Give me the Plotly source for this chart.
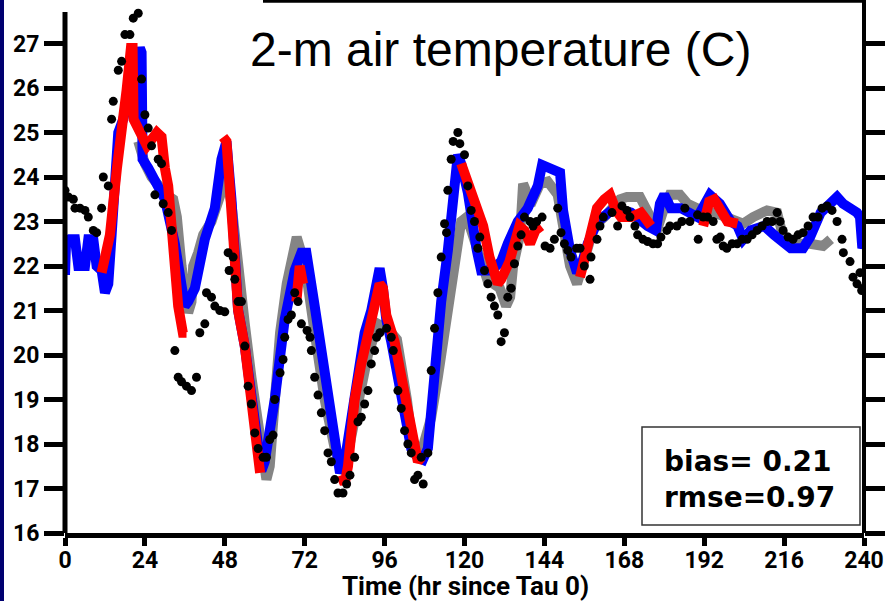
import plotly.graph_objects as go

# ---------------- data (hour since Tau 0, temperature C) ----------------
x_ticks = [0, 24, 48, 72, 96, 120, 144, 168, 192, 216, 240]
y_ticks = [16, 17, 18, 19, 20, 21, 22, 23, 24, 25, 26, 27]

blue = [(0, 21.8), (0.3, 22.5), (1.5, 22.6), (3, 22.6), (4, 22.0), (6, 22.0), (7, 22.6), (8.5, 22.6),
        (9.5, 22.0), (11, 21.9), (12, 21.4), (13, 21.6), (14, 22.7), (15, 24.2), (16, 25.0), (17.5, 25.3),
        (19, 25.8), (21, 26.3), (22.5, 26.9), (23, 26.8), (23.3, 24.4), (25, 24.2), (27, 23.9), (30, 23.5),
        (33, 22.5), (35, 21.3), (36, 21.1), (37, 21.2), (39, 21.5), (42, 22.6), (45, 23.3), (47, 24.4),
        (48.5, 24.8), (50, 23.5), (52, 21.0), (54, 20.2), (56, 19.0), (58, 17.6), (59, 17.4), (60, 17.6),
        (63, 19.0), (66, 20.8), (68, 21.5), (69, 21.9), (71, 22.3), (72.5, 22.3), (75, 21.1), (77, 20.1),
        (79, 19.1), (81, 18.1), (82.6, 17.35), (84, 17.6), (86, 18.6), (88, 19.5), (90, 20.5), (92, 21.0),
        (94.5, 21.95), (95.5, 21.5), (96.5, 20.8), (98, 20.3), (100, 19.5), (102, 18.5), (104, 17.9),
        (106, 17.7), (107.5, 17.65), (109, 17.9), (110, 18.8), (111, 19.7), (113, 21.2), (115, 22.35),
        (116.6, 23.85), (118, 24.5), (119, 24.3), (121, 23.65), (123.7, 22.35), (125, 21.9), (128, 21.9),
        (131, 22.1), (133, 22.5), (136, 23.0), (139, 23.3), (142, 23.8), (143.3, 24.27), (146, 24.2),
        (148.7, 24.1), (149.6, 23.25), (151.7, 22.35), (153.8, 21.85), (155, 22.0), (157, 22.5), (160, 23.0),
        (165, 23.3), (170, 23.2), (175, 22.9), (177.5, 22.8), (178.7, 23.4), (180, 23.6), (182, 23.3),
        (185, 23.3), (190, 23.1), (193.7, 23.6), (196.7, 23.4), (198, 23.25), (200, 23.0), (202, 22.9),
        (203.7, 22.6), (206, 22.8), (210, 22.9), (213, 22.7), (214.8, 22.6), (218, 22.4), (221.7, 22.4),
        (223.8, 22.65), (227, 23.2), (229.8, 23.4), (231.9, 23.55), (233.7, 23.4), (236, 23.3),
        (237.9, 23.2), (238.8, 23.1), (239.5, 22.4), (240, 22.5)]

gray = [(22, 24.8), (24, 24.3), (26, 24.0), (28, 23.8), (30.5, 23.6), (32.5, 23.5), (33.6, 23.1), (35, 22.0),
        (36, 21.25), (37, 20.95), (38, 21.2), (38.5, 22.0), (40, 22.3), (41.5, 22.7), (44, 23.0), (46, 23.4),
        (47.5, 23.8), (48.5, 24.0), (50, 23.4), (52, 21.8), (54, 20.7), (56, 19.5), (58, 18.3), (59.5, 17.5),
        (60.5, 17.2), (61.5, 17.5), (62.6, 18.5), (64.6, 20.5), (66.6, 21.6), (68.2, 22.35), (69.6, 22.65),
        (71, 22.3), (72.5, 21.8), (75, 20.5), (78, 19.0), (81, 17.9), (83, 17.5), (85, 17.8), (88, 19.0),
        (91, 20.0), (94, 20.7), (97.5, 20.55), (99.7, 20.35), (101, 19.8), (102.7, 19.0), (104, 18.2),
        (105.7, 17.7), (107, 17.8), (108.5, 18.2), (110, 18.6), (112, 19.5), (114, 20.6), (115.6, 21.45),
        (117.7, 22.6), (119, 23.0), (120.7, 23.1), (122, 22.8), (124.6, 22.1), (126.8, 21.7), (130.6, 21.5),
        (132.5, 21.1), (133.7, 21.3), (134.6, 22.0), (136.7, 22.7), (137.6, 23.85), (139, 23.6),
        (140.6, 23.5), (142.7, 23.85), (145, 23.9), (148, 23.6), (149.6, 22.9), (151.7, 22.0), (153.8, 21.6),
        (156, 22.2), (159, 22.9), (162, 23.1), (165, 23.4), (166.7, 23.5), (168.8, 23.55), (172.7, 23.55),
        (174.8, 23.25), (177.8, 22.8), (179.5, 23.2), (181.7, 23.6), (184.7, 23.6), (187, 23.4),
        (189.8, 23.3), (192, 23.2), (195, 23.2), (198, 23.1), (201, 23.0), (203.7, 22.95), (206.7, 23.1),
        (210.9, 23.25), (213.9, 23.2), (215.4, 22.75), (217, 22.6), (220, 22.5), (223.8, 22.5),
        (227.7, 22.45), (230, 22.6)]

red_segments = [
    [(11, 21.85), (13.5, 22.7), (15.6, 24.2), (17.5, 25.7), (18.5, 25.95), (19.8, 26.9), (20.3, 26.9),
     (20.6, 25.3), (22.5, 25.0), (24.6, 24.7), (27.6, 25.0), (29, 24.9), (30, 24.2), (31, 23.8), (32, 22.9),
     (33, 21.75), (34, 21.1), (35.4, 20.5), (36.5, 20.5)],
    [(47.5, 24.9), (48.5, 24.8), (50.5, 22.7), (52, 21.0), (54, 20.2), (55.6, 19.2), (57, 18.1), (58.6, 17.35)],
    [(69.5, 21.2), (70.5, 22.0), (71.5, 21.6)],
    [(83, 17.3), (84, 17.1), (85, 17.5), (87, 19.0), (89, 19.8), (91, 20.5), (93, 21.1), (94.5, 21.6),
     (95.5, 21.5), (96.5, 20.9), (99, 20.3), (101, 19.5), (103, 18.8), (105, 18.0), (106, 17.6), (107, 17.7)],
    [(119, 24.3), (120.5, 24.0), (122.7, 23.5), (125.6, 22.9), (127.5, 22.2), (129, 21.8), (130, 21.6),
     (131, 21.7), (133.5, 22.1), (136.5, 22.9), (138, 22.8), (139.7, 22.5), (141.3, 22.8), (143, 22.9)],
    [(154.7, 21.75), (157.7, 22.7), (159.8, 23.3), (162, 23.5), (163.7, 23.6), (165.5, 23.25), (167, 23.1),
     (170, 23.1), (173, 23.2), (175, 23.0), (176, 22.9)],
    [(191.7, 22.9), (193.5, 23.45), (195, 23.5), (197, 23.2), (199, 23.0), (202, 22.95)],
]

obs = [(0, 23.7), (1, 23.55), (2.5, 23.5), (3, 23.3), (4.5, 23.3), (6, 23.25), (7, 23.1), (8.5, 22.8),
       (9.5, 22.75), (11, 23.3), (11.5, 24.0), (13, 23.8), (14, 25.3), (14.5, 25.7), (16, 26.4), (17, 26.6),
       (18, 27.2), (19.5, 27.2), (20.5, 27.57), (22, 27.68), (23, 26.2), (24, 25.4), (25, 25.1), (26, 24.7),
       (27, 23.6), (28, 24.4), (29, 24.3), (29.5, 23.4), (31, 23.2), (32, 22.8), (33, 20.1), (34, 19.5),
       (35, 19.4), (36.5, 19.3), (38, 19.2), (39.5, 19.5), (40.5, 20.5), (42, 20.7), (42.5, 21.4), (44, 21.3),
       (45, 21.1), (46.5, 21.0), (48, 20.97), (49, 22.3), (49.3, 21.9), (50.5, 22.2), (51, 21.7), (52, 21.2),
       (53, 21.2), (54, 20.2), (55, 19.3), (56, 18.9), (57, 18.25), (58, 17.9), (59.5, 17.7), (60.5, 17.7),
       (61.5, 18.1), (62.5, 18.2), (63, 19.0), (64.6, 19.6), (65.5, 19.9), (66, 20.4), (67, 20.8), (68, 20.9),
       (69, 21.4), (70, 21.2), (71, 20.7), (72.7, 20.55), (73.6, 20.4), (74, 20.1), (75, 19.5), (76, 19.1),
       (77, 18.7), (78, 18.3), (79, 17.8), (80, 17.6), (81, 17.2), (82, 16.9), (83.5, 16.9), (84.6, 17.1),
       (85.6, 17.3), (87, 17.7), (88, 18.5), (89, 18.6), (90, 18.9), (91, 19.2), (92, 19.8), (93, 20.1),
       (93.6, 20.4), (94.6, 20.5), (96.6, 20.6), (98, 20.4), (98.6, 20.1), (100, 19.2), (101, 18.8),
       (102, 18.3), (103, 18.0), (104, 17.8), (105, 17.2), (106, 17.3), (107, 17.7), (107.6, 17.1),
       (109, 17.8), (110, 19.65), (111, 20.6), (112, 21.4), (113, 22.2), (114, 22.95), (114.6, 22.75),
       (115, 23.7), (116, 24.4), (116.6, 24.8), (118, 25.0), (118.6, 24.75), (120, 24.5), (121, 23.8),
       (122, 23.25), (123, 23.0), (124, 22.4), (124.6, 22.65), (126, 21.9), (127, 21.6), (128, 21.3),
       (129, 21.1), (130, 20.9), (131, 20.3), (132, 20.5), (133, 21.3), (134, 21.5), (135, 22.05),
       (136, 22.45), (137, 22.7), (138, 23.1), (139.7, 23.0), (140.6, 22.9), (141.7, 23.0), (143.3, 23.1),
       (144.2, 22.45), (145.7, 22.4), (147, 22.6), (148, 23.3), (149, 22.75), (150, 22.5), (151, 22.35),
       (152, 22.2), (153.7, 22.4), (154.7, 22.4), (156, 22.0), (157.7, 21.7), (158, 22.2), (159.8, 22.6),
       (160.7, 22.9), (161.7, 23.1), (164.3, 23.2), (166, 22.9), (167.3, 23.35), (168.8, 23.25),
       (169.7, 23.1), (171.2, 22.9), (172, 22.7), (173.6, 22.6), (175, 22.55), (176.6, 22.5), (178, 22.5),
       (179, 22.65), (180.8, 22.8), (181.7, 22.9), (183.8, 22.9), (185.3, 23.0), (186.2, 23.3),
       (187.7, 23.0), (190, 23.15), (190.2, 22.6), (191.7, 23.1), (193, 23.1), (194.7, 23.0), (195.8, 22.6),
       (196.8, 22.65), (197.7, 22.45), (198.8, 22.4), (200.4, 22.5), (201.9, 22.5), (203.4, 22.6),
       (204.9, 22.6), (206.4, 22.7), (207.9, 22.8), (209.4, 22.9), (210.9, 23.0), (212.4, 23.0),
       (213.9, 23.2), (214.8, 23.0), (215.7, 22.8), (217.2, 22.65), (218.7, 22.6), (220.2, 22.7),
       (221.7, 22.75), (223.2, 22.9), (224.7, 23.1), (226.2, 23.1), (227.4, 23.3), (228.9, 23.35),
       (230.4, 23.25), (231.9, 23.0), (233.4, 22.6), (233.8, 22.3), (235.8, 22.1), (236.7, 21.75),
       (237.9, 21.6), (238.8, 21.85), (239.3, 21.45), (239.8, 21.5)]

title_text = "2-m air temperature (C)"
x_title = "Time (hr since Tau 0)"
stats_text = "bias= 0.21<br>rmse=0.97"


def unzip(pairs):
    return [p[0] for p in pairs], [p[1] for p in pairs]


red_x, red_y = [], []
for seg in red_segments:
    sx, sy = unzip(seg)
    red_x += sx + [None]
    red_y += sy + [None]

fig = go.Figure()
gx, gy = unzip(gray)
bx, by = unzip(blue)
ox, oy = unzip(obs)
fig.add_trace(go.Scatter(x=gx, y=gy, mode="lines", line=dict(color="#858585", width=10), showlegend=False))
fig.add_trace(go.Scatter(x=bx, y=by, mode="lines", line=dict(color="#0000ff", width=10), showlegend=False))
fig.add_trace(go.Scatter(x=red_x, y=red_y, mode="lines", line=dict(color="#ff0000", width=10),
                         connectgaps=False, showlegend=False))
fig.add_trace(go.Scatter(x=ox, y=oy, mode="markers", marker=dict(color="black", size=9),
                         showlegend=False))

W, H = 885, 601
L, R, T, B = 65, 21, 0, 68
pw, ph = W - L - R, H - T - B


def px(xp):
    return (xp - L) / pw


def py(yp):
    return 1 - (yp - T) / ph


tick_font = dict(family="Roboto", size=23, color="black", weight="bold")

fig.update_layout(
    width=W, height=H,
    margin=dict(l=L, r=R, t=T, b=B, autoexpand=False),
    paper_bgcolor="white", plot_bgcolor="white",
    xaxis=dict(range=[0, 240], tickvals=x_ticks, ticks="outside", ticklen=8, tickwidth=5,
               tickcolor="black", showline=True, linewidth=5, linecolor="black",
               showgrid=False, zeroline=False, tickfont=tick_font, automargin=False,
               ticklabelstandoff=-6),
    yaxis=dict(range=[16, 27.978], tickvals=y_ticks, ticks="outside", ticklen=20, tickwidth=5,
               tickcolor="black", showline=False, mirror="ticks", showgrid=False, zeroline=False,
               tickfont=tick_font, automargin=False),
    shapes=[
        dict(type="rect", xref="paper", yref="paper", x0=px(0), x1=px(4), y0=py(H), y1=1.0,
             fillcolor="#000070", line=dict(width=0)),
        dict(type="line", xref="paper", yref="paper", x0=0, x1=0, y0=0, y1=py(12),
             line=dict(color="black", width=5)),
        dict(type="line", xref="paper", yref="paper", x0=1, x1=1, y0=0, y1=1,
             line=dict(color="black", width=4)),
        dict(type="line", xref="paper", yref="paper", x0=px(263), x1=1, y0=py(1.3), y1=py(1.3),
             line=dict(color="black", width=3)),
        dict(type="rect", xref="paper", yref="paper", x0=px(642), x1=px(860), y0=py(525), y1=py(427),
             line=dict(color="#333333", width=1.5), fillcolor="rgba(0,0,0,0)"),
    ],
    annotations=[
        dict(text=title_text, xref="paper", yref="paper", x=px(500), y=py(50), xanchor="center",
             yanchor="middle", showarrow=False,
             font=dict(family="Liberation Sans", size=48, color="black")),
        dict(text=x_title, xref="paper", yref="paper", x=px(466), y=py(586), xanchor="center",
             yanchor="middle", showarrow=False,
             font=dict(family="Roboto", size=26, color="black", weight="bold")),
        dict(text=stats_text, xref="paper", yref="paper", x=px(662), y=py(479), xanchor="left",
             yanchor="middle", align="left", showarrow=False,
             font=dict(family="DejaVu Sans", size=28, color="black", weight="bold")),
    ],
)

fig.write_html("out.html", config={"displayModeBar": False},
               post_script="document.body.style.margin='0px';document.body.style.overflow='hidden';")
